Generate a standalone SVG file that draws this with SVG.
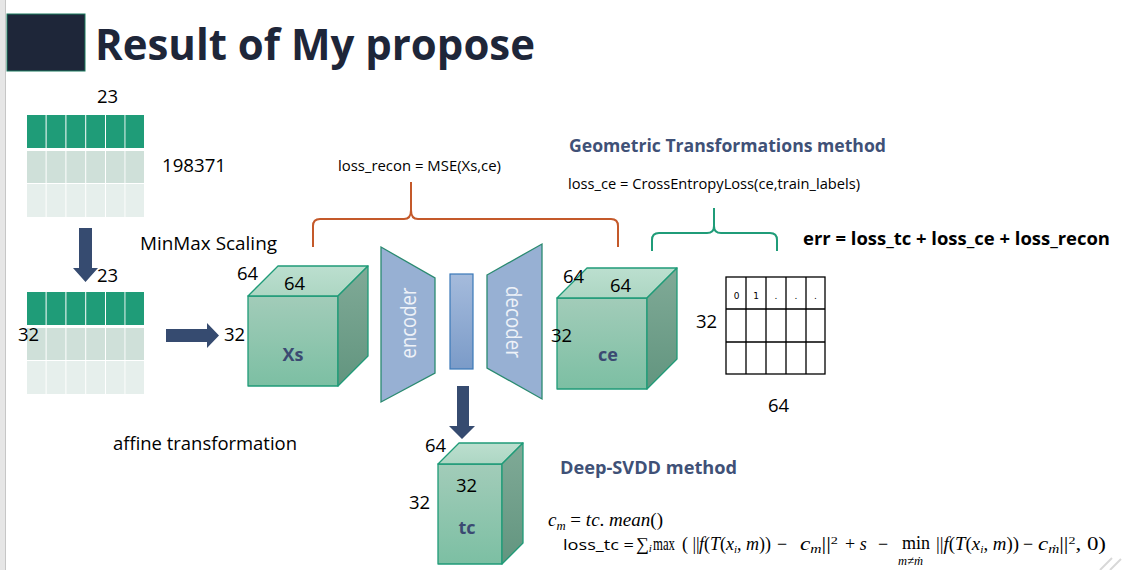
<svg xmlns="http://www.w3.org/2000/svg" width="1132" height="570" viewBox="0 0 1132 570">
<defs>
  <linearGradient id="gFront" x1="0" y1="0" x2="0" y2="1">
    <stop offset="0" stop-color="#a2ccb9"/>
    <stop offset="1" stop-color="#7cbfa3"/>
  </linearGradient>
  <linearGradient id="gTop" x1="0" y1="0" x2="0" y2="1">
    <stop offset="0" stop-color="#bcdfcf"/>
    <stop offset="1" stop-color="#add6c3"/>
  </linearGradient>
  <linearGradient id="gSide" x1="0" y1="0" x2="0" y2="1">
    <stop offset="0" stop-color="#80aa97"/>
    <stop offset="1" stop-color="#62957f"/>
  </linearGradient>
  <linearGradient id="gBottle" x1="0" y1="0" x2="0" y2="1">
    <stop offset="0" stop-color="#a5bbdc"/>
    <stop offset="1" stop-color="#7b9bc8"/>
  </linearGradient>
</defs>
<style>
  .t { font-family: "Open Sans", "Noto Sans", sans-serif; fill: #000; }
  .n { font-size: 18.5px; }
  .lbl { font-family: "Open Sans", "Noto Sans", sans-serif; font-weight: bold; font-size: 18px; fill: #3b4a72; }
  .head { font-family: "Open Sans", "Noto Sans", sans-serif; font-weight: bold; font-size: 18px; fill: #3f5177; }
  .code { font-family: "Open Sans", "Noto Sans", sans-serif; font-size: 14.5px; fill: #000; }
  .m { font-family: "Liberation Serif", "DejaVu Serif", serif; font-size: 18px; fill: #000; }
  .i { font-style: italic; }
  .face { stroke: #1f9b78; stroke-width: 1.3; stroke-linejoin: round; }
  .cellA { fill: #1f9c78; }
  .cellB { fill: #cfe0d9; }
  .cellC { fill: #e6efec; }
  .arrow { fill: #364b70; }
  .trap { fill: #97b0d3; stroke: #2a8a70; stroke-width: 1.3; }
  .trapTxt { font-family: "Open Sans", "Noto Sans", sans-serif; font-size: 21px; fill: #eef2f8; }
  .grid { fill: none; stroke: #000; stroke-width: 1.3; }
</style>

<rect x="0" y="0" width="1132" height="570" fill="#ffffff"/>
<rect x="0" y="0" width="5" height="570" fill="#e6e6e6"/>
<line x1="5.5" y1="0" x2="5.5" y2="570" stroke="#c6c6c6" stroke-width="1"/>

<g id="title">
  <rect x="7" y="14" width="78" height="57" fill="#1e2639" stroke="#1a7a5e" stroke-width="1"/>
  <text x="95" y="60" font-family="Open Sans, Noto Sans, sans-serif" font-weight="bold" font-size="43" fill="#1e2639" textLength="440" lengthAdjust="spacingAndGlyphs">Result of My propose</text>
</g>

<g id="table-raw">
  <g class="cellA">
    <rect x="27" y="115" width="18.6" height="33"/><rect x="46.6" y="115" width="18.8" height="33"/><rect x="66.4" y="115" width="18.8" height="33"/><rect x="86.2" y="115" width="18.8" height="33"/><rect x="106" y="115" width="18.5" height="33"/><rect x="125.4" y="115" width="18.6" height="33"/>
  </g>
  <g class="cellB">
    <rect x="27" y="151" width="18.6" height="32"/><rect x="46.6" y="151" width="18.8" height="32"/><rect x="66.4" y="151" width="18.8" height="32"/><rect x="86.2" y="151" width="18.8" height="32"/><rect x="106" y="151" width="18.5" height="32"/><rect x="125.4" y="151" width="18.6" height="32"/>
  </g>
  <g class="cellC">
    <rect x="27" y="184" width="18.6" height="33"/><rect x="46.6" y="184" width="18.8" height="33"/><rect x="66.4" y="184" width="18.8" height="33"/><rect x="86.2" y="184" width="18.8" height="33"/><rect x="106" y="184" width="18.5" height="33"/><rect x="125.4" y="184" width="18.6" height="33"/>
  </g>
  <text class="t n" x="97" y="103">23</text>
  <text class="t n" x="162" y="172" textLength="64" lengthAdjust="spacingAndGlyphs">198371</text>
</g>

<g id="table-scaled">
  <g class="cellA">
    <rect x="27" y="292" width="18.6" height="33"/><rect x="46.6" y="292" width="18.8" height="33"/><rect x="66.4" y="292" width="18.8" height="33"/><rect x="86.2" y="292" width="18.8" height="33"/><rect x="106" y="292" width="18.5" height="33"/><rect x="125.4" y="292" width="18.6" height="33"/>
  </g>
  <g class="cellB">
    <rect x="27" y="328" width="18.6" height="32"/><rect x="46.6" y="328" width="18.8" height="32"/><rect x="66.4" y="328" width="18.8" height="32"/><rect x="86.2" y="328" width="18.8" height="32"/><rect x="106" y="328" width="18.5" height="32"/><rect x="125.4" y="328" width="18.6" height="32"/>
  </g>
  <g class="cellC">
    <rect x="27" y="361" width="18.6" height="33"/><rect x="46.6" y="361" width="18.8" height="33"/><rect x="66.4" y="361" width="18.8" height="33"/><rect x="86.2" y="361" width="18.8" height="33"/><rect x="106" y="361" width="18.5" height="33"/><rect x="125.4" y="361" width="18.6" height="33"/>
  </g>
  <text class="t n" x="97" y="282">23</text>
  <text class="t n" x="18" y="341">32</text>
</g>

<g id="connectors">
  <polygon class="arrow" points="79,228 92,228 92,268 98,268 85.5,282 73,268 79,268"/>
  <polygon class="arrow" points="166,329 207,329 207,323 219,335.5 207,348 207,342 166,342"/>
  <polygon class="arrow" points="457,386 469,386 469,426 475,426 462,439 449,426 457,426"/>
  <path d="M313,247 V226 Q313,219 320,219 H404 Q411,219 411,210 V182 M411,210 Q411,219 418,219 H611 Q618,219 618,226 V247" fill="none" stroke="#c4592a" stroke-width="2"/>
  <path d="M652,251 V240 Q652,233 659,233 H707 Q714,233 714,226 V208 M714,226 Q714,233 721,233 H770 Q777,233 777,240 V251" fill="none" stroke="#1f9c78" stroke-width="2"/>
</g>

<g id="labels">
  <text class="t n" x="140" y="250" textLength="137" lengthAdjust="spacingAndGlyphs">MinMax Scaling</text>
  <text class="t n" x="113" y="450" textLength="184" lengthAdjust="spacingAndGlyphs">affine transformation</text>
  <text class="code" x="338" y="171" textLength="163" lengthAdjust="spacingAndGlyphs">loss_recon = MSE(Xs,ce)</text>
  <text class="head" x="569" y="152" textLength="317" lengthAdjust="spacingAndGlyphs">Geometric Transformations method</text>
  <text class="code" x="568" y="189" textLength="292" lengthAdjust="spacingAndGlyphs">loss_ce = CrossEntropyLoss(ce,train_labels)</text>
  <text x="803" y="245" font-family="Open Sans, Noto Sans, sans-serif" font-weight="bold" font-size="18" fill="#000" textLength="307" lengthAdjust="spacingAndGlyphs">err = loss_tc + loss_ce + loss_recon</text>
  <text class="head" x="560" y="474" textLength="177" lengthAdjust="spacingAndGlyphs">Deep-SVDD method</text>
</g>

<g id="cube-Xs">
  <rect class="face" x="248" y="296" width="90" height="90" fill="url(#gFront)"/>
  <polygon class="face" points="248,296 278,266 368,266 338,296" fill="url(#gTop)"/>
  <polygon class="face" points="338,296 368,266 368,356 338,386" fill="url(#gSide)"/>
  <text class="t n" x="237" y="280">64</text>
  <text class="t n" x="284" y="290">64</text>
  <text class="t n" x="224" y="341">32</text>
  <text class="lbl" x="293" y="361" text-anchor="middle">Xs</text>
</g>

<g id="encoder">
  <polygon class="trap" points="381,247 435,278 435,373 381,402"/>
  <text class="trapTxt" transform="translate(416,323) rotate(-90)" text-anchor="middle" textLength="71" lengthAdjust="spacingAndGlyphs">encoder</text>
</g>

<g id="bottleneck">
  <rect x="450" y="274" width="23" height="95" fill="url(#gBottle)" stroke="#3a78b8" stroke-width="1.2"/>
</g>

<g id="decoder">
  <polygon class="trap" points="487,275 542,244 542,399 487,368"/>
  <text class="trapTxt" transform="translate(506,322) rotate(90)" text-anchor="middle" textLength="72" lengthAdjust="spacingAndGlyphs">decoder</text>
</g>

<g id="cube-ce">
  <rect class="face" x="557" y="298" width="90" height="91" fill="url(#gFront)"/>
  <polygon class="face" points="557,298 587,268 677,268 647,298" fill="url(#gTop)"/>
  <polygon class="face" points="647,298 677,268 677,359 647,389" fill="url(#gSide)"/>
  <text class="t n" x="563" y="283">64</text>
  <text class="t n" x="610" y="292">64</text>
  <text class="t n" x="551" y="342">32</text>
  <text class="lbl" x="608" y="361" text-anchor="middle">ce</text>
</g>

<g id="label-matrix">
  <rect class="grid" x="726" y="277" width="99" height="97"/>
  <path class="grid" d="M746,277 V374 M766,277 V374 M786,277 V374 M806,277 V374 M726,309 H825 M726,342 H825"/>
  <g font-family="DejaVu Sans, sans-serif" font-size="9" fill="#000" text-anchor="middle">
    <text x="736.5" y="299">0</text>
    <text x="756" y="299">1</text>
    <text x="776" y="299">.</text>
    <text x="796" y="299">.</text>
    <text x="815.5" y="299">.</text>
  </g>
  <text class="t n" x="696" y="328">32</text>
  <text class="t n" x="768" y="412">64</text>
</g>

<g id="cube-tc">
  <rect class="face" x="438" y="464" width="64" height="100" fill="url(#gFront)"/>
  <polygon class="face" points="438,464 459,443 523,443 502,464" fill="url(#gTop)"/>
  <polygon class="face" points="502,464 523,443 523,543 502,564" fill="url(#gSide)"/>
  <text class="t n" x="425" y="452">64</text>
  <text class="t n" x="456" y="492">32</text>
  <text class="t n" x="409" y="509">32</text>
  <text class="lbl" x="467" y="534" text-anchor="middle">tc</text>
</g>

<g id="formulas">
  <text class="m" x="548" y="526" textLength="115" lengthAdjust="spacingAndGlyphs"><tspan class="i">c</tspan><tspan class="i" font-size="12" dy="4">m</tspan><tspan dy="-4"> = </tspan><tspan class="i">tc</tspan>.<tspan class="i"> mean</tspan>()</text>
  <text class="code" x="563" y="550" font-size="15" textLength="71" lengthAdjust="spacingAndGlyphs">loss_tc =</text>
  <text class="m" x="636" y="550" font-size="20">∑<tspan class="i" font-size="11" dy="2">i</tspan></text>
  <text class="m" x="653" y="550" textLength="22" lengthAdjust="spacingAndGlyphs">max</text>
  <text class="m" x="682" y="550">( ||</text>
  <text class="m" x="699" y="550" textLength="72" lengthAdjust="spacingAndGlyphs"><tspan class="i">f</tspan>(<tspan class="i">T</tspan>(<tspan class="i">x</tspan><tspan class="i" font-size="11" dy="3">i</tspan><tspan dy="-3">, </tspan><tspan class="i">m</tspan>))</text>
  <text class="m" x="777" y="550">−</text>
  <text class="m" x="800" y="550" textLength="38" lengthAdjust="spacingAndGlyphs"><tspan class="i">c</tspan><tspan class="i" font-size="12" dy="3">m</tspan><tspan dy="-3">||</tspan><tspan font-size="11" dy="-6">2</tspan></text>
  <text class="m" x="845" y="550">+ <tspan class="i">s</tspan></text>
  <text class="m" x="878" y="550">−</text>
  <text class="m" y="549"><tspan x="902">min</tspan><tspan class="i" x="898" y="565" style="font-size:12.5px">m≠ṁ</tspan></text>
  <text class="m" x="936" y="550" textLength="83" lengthAdjust="spacingAndGlyphs">||<tspan class="i">f</tspan>(<tspan class="i">T</tspan>(<tspan class="i">x</tspan><tspan class="i" font-size="11" dy="3">i</tspan><tspan dy="-3">, </tspan><tspan class="i">m</tspan>))</text>
  <text class="m" x="1023" y="550">−</text>
  <text class="m" x="1038" y="550" textLength="68" lengthAdjust="spacingAndGlyphs"><tspan class="i">c</tspan><tspan class="i" font-size="12" dy="3">ṁ</tspan><tspan dy="-3">||</tspan><tspan font-size="11" dy="-6">2</tspan><tspan dy="6">, 0)</tspan></text>
</g>

<g id="corner-mark" stroke="#d8d8d8" stroke-width="2" fill="none">
  <path d="M1100,570 L1112,558"/>
  <path d="M1110,570 L1121,559"/>
</g>
</svg>
